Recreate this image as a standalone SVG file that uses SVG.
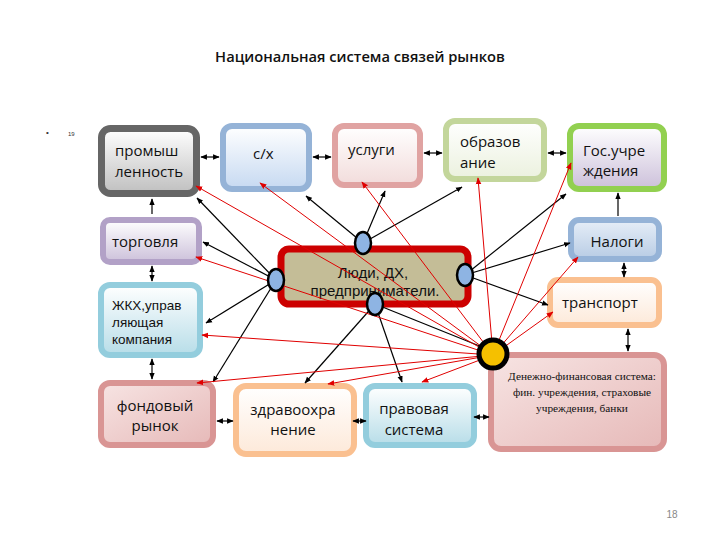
<svg xmlns="http://www.w3.org/2000/svg" width="720" height="540" viewBox="0 0 720 540">
<defs>
<linearGradient id="gGray" x1="0" y1="0" x2="0" y2="1"><stop offset="0" stop-color="#ffffff"/><stop offset="1" stop-color="#bfbfbf"/></linearGradient>
<linearGradient id="gBlue" x1="0" y1="0" x2="0" y2="1"><stop offset="0" stop-color="#ffffff"/><stop offset="1" stop-color="#c6d9f1"/></linearGradient>
<linearGradient id="gPink" x1="0" y1="0" x2="0" y2="1"><stop offset="0" stop-color="#ffffff"/><stop offset="1" stop-color="#f2dcdb"/></linearGradient>
<linearGradient id="gGreen" x1="0" y1="0" x2="0" y2="1"><stop offset="0" stop-color="#ffffff"/><stop offset="1" stop-color="#ebf1de"/></linearGradient>
<linearGradient id="gLav" x1="0" y1="0" x2="0" y2="1"><stop offset="0" stop-color="#ffffff"/><stop offset="1" stop-color="#ccc0da"/></linearGradient>
<linearGradient id="gTeal" x1="0" y1="0" x2="0" y2="1"><stop offset="0" stop-color="#ffffff"/><stop offset="1" stop-color="#b7dde8"/></linearGradient>
<linearGradient id="gRose" x1="0" y1="0" x2="1" y2="1"><stop offset="0" stop-color="#f7e4e3"/><stop offset="1" stop-color="#e6b9b8"/></linearGradient>
<linearGradient id="gOrange" x1="0" y1="0" x2="0" y2="1"><stop offset="0" stop-color="#ffffff"/><stop offset="1" stop-color="#fde9d9"/></linearGradient>
<linearGradient id="gNal" x1="0" y1="0" x2="0" y2="1"><stop offset="0" stop-color="#e6eef8"/><stop offset="1" stop-color="#b8cce4"/></linearGradient>
<marker id="ab" viewBox="0 0 10 10" refX="9" refY="5" markerWidth="5.5" markerHeight="5.5" orient="auto-start-reverse"><path d="M0,1 L10,5 L0,9 z" fill="#000"/></marker>
<marker id="ar" viewBox="0 0 10 10" refX="9" refY="5" markerWidth="7" markerHeight="7" orient="auto"><path d="M0,1 L10,5 L0,9 z" fill="#e00000"/></marker>
</defs>
<style>
.box{stroke-width:6}
.t{font-family:"Open Sans","Liberation Sans",sans-serif;font-size:15px;fill:#111}
.ts{font-family:"Liberation Sans",sans-serif;font-size:13.5px;fill:#111}
.tc{text-anchor:middle}
.ser{font-family:"Liberation Serif",serif;font-size:11.3px;fill:#111;text-anchor:middle}
.bl{stroke:#000;stroke-width:1.2;fill:none}
.rd{stroke:#e00000;stroke-width:1;fill:none}
.dot{fill:#8eb4e3;stroke:#000;stroke-width:2.5}
</style>
<rect width="720" height="540" fill="#fff"/>
<text x="360" y="62" text-anchor="middle" font-family="Open Sans, Liberation Sans, sans-serif" font-size="14.7" font-weight="600" fill="#111">Национальная система связей рынков</text>
<text x="46" y="135" font-family="Liberation Sans, sans-serif" font-size="8" fill="#333">•</text>
<text x="68" y="136" font-family="Liberation Sans, sans-serif" font-size="6" fill="#333">19</text>
<text x="672" y="518" font-family="Liberation Sans, sans-serif" font-size="10" fill="#888" text-anchor="middle">18</text>

<g id="n-prom"><rect x="101.5" y="128.5" width="95" height="65" rx="9" fill="url(#gGray)" stroke="#666666" stroke-width="7"/><text class="t" x="115" y="156">промыш</text><text class="t" x="115" y="177">ленность</text></g>
<g id="n-sx"><rect class="box" x="223" y="126" width="86" height="63" rx="9" fill="url(#gBlue)" stroke="#95b3d7"/><text class="t" x="253" y="159" font-size="19">с/х</text></g>
<g id="n-usl"><rect class="box" x="335" y="126" width="85" height="59" rx="9" fill="url(#gPink)" stroke="#e0a3a2"/><text class="t" x="348" y="155" font-size="16">услуги</text></g>
<g id="n-obr"><rect class="box" x="446" y="121" width="98" height="58" rx="9" fill="url(#gGreen)" stroke="#c3d69b"/><text class="t" x="460" y="147">образов</text><text class="t" x="460" y="168">ание</text></g>
<g id="n-gos"><rect class="box" x="570" y="126" width="94" height="63" rx="9" fill="url(#gLav)" stroke="#92d050"/><text class="t" x="583" y="156">Гос.учре</text><text class="t" x="583" y="176">ждения</text></g>
<g id="n-torg"><rect class="box" x="103" y="220" width="96" height="42" rx="7" fill="url(#gLav)" stroke="#b2a1c7"/><text class="t" x="112" y="247">торговля</text></g>
<g id="n-zhkh"><rect class="box" x="101" y="285" width="99" height="70" rx="9" fill="url(#gTeal)" stroke="#93cddd"/><text class="ts" x="112" y="310">ЖКХ,управ</text><text class="ts" x="112" y="327">ляющая</text><text class="ts" x="112" y="344">компания</text></g>
<g id="n-fond"><rect class="box" x="101" y="383" width="112" height="62" rx="9" fill="url(#gRose)" stroke="#d99594"/><text class="t tc" x="155" y="411">фондовый</text><text class="t tc" x="155" y="431">рынок</text></g>
<g id="n-zdr"><rect class="box" x="236" y="386" width="118" height="68" rx="10" fill="url(#gOrange)" stroke="#fac090"/><text class="t tc" x="293" y="415" font-size="16">здравоохра</text><text class="t tc" x="293" y="435" font-size="16">нение</text></g>
<g id="n-prav"><rect class="box" x="366" y="386" width="108" height="59" rx="9" fill="url(#gTeal)" stroke="#93cddd"/><text class="t tc" x="414" y="414" font-size="17">правовая</text><text class="t tc" x="414" y="435" font-size="17">система</text></g>
<g id="n-den"><rect class="box" x="491" y="355" width="173" height="94" rx="10" fill="url(#gRose)" stroke="#d99594"/><text class="ser" x="582" y="380">Денежно-финансовая система:</text><text class="ser" x="582" y="396">фин. учреждения, страховые</text><text class="ser" x="582" y="412">учреждения, банки</text></g>
<g id="n-nal"><rect class="box" x="571" y="220" width="88" height="39" rx="8" fill="url(#gNal)" stroke="#95b3d7"/><text class="t tc" x="617" y="247" font-size="18">Налоги</text></g>
<g id="n-tr"><rect class="box" x="550" y="280" width="109" height="45" rx="8" fill="url(#gOrange)" stroke="#fac090"/><text class="t" x="562" y="308">транспорт</text></g>
<g id="n-center"><rect x="281" y="249" width="187" height="55" rx="8" fill="#c4bd97" stroke="#cc0000" stroke-width="7"/><text x="373" y="278" text-anchor="middle" font-family="Liberation Sans, sans-serif" font-size="15" fill="#111">Люди, ДХ,</text><text x="375" y="296" text-anchor="middle" font-family="Liberation Sans, sans-serif" font-size="15" fill="#111">предприниматели.</text></g>

<g id="connectors">
<g marker-start="url(#ab)" marker-end="url(#ab)" class="bl">
<line x1="201" y1="157" x2="219" y2="157"/>
<line x1="313" y1="157" x2="331" y2="157"/>
<line x1="424" y1="153" x2="442" y2="153"/>
<line x1="548" y1="153" x2="566" y2="153"/>
<line x1="152" y1="266" x2="152" y2="281"/>
<line x1="152" y1="359" x2="152" y2="379"/>
<line x1="217" y1="421" x2="233" y2="421"/>
<line x1="353" y1="421" x2="366" y2="421"/>
<line x1="474" y1="417" x2="489" y2="417"/>
<line x1="624" y1="263" x2="624" y2="277"/>
<line x1="628" y1="329" x2="628" y2="351"/>
</g>
<g marker-end="url(#ab)" class="bl">
<line x1="152" y1="214" x2="152" y2="199"/>
<line x1="618" y1="216" x2="618" y2="193"/>
<line x1="276" y1="280" x2="197" y2="198"/>
<line x1="276" y1="280" x2="203" y2="242"/>
<line x1="276" y1="280" x2="206" y2="323"/>
<line x1="276" y1="280" x2="213" y2="382"/>
<line x1="363" y1="243" x2="306" y2="196"/>
<line x1="363" y1="243" x2="385" y2="191"/>
<line x1="363" y1="243" x2="462" y2="187"/>
<line x1="465" y1="275" x2="566" y2="194"/>
<line x1="465" y1="275" x2="570" y2="243"/>
<line x1="465" y1="275" x2="548" y2="305"/>
<line x1="375" y1="304" x2="305" y2="383"/>
<line x1="375" y1="304" x2="402" y2="382"/>
</g>
<line class="bl" x1="375" y1="304" x2="482" y2="347"/>
<g marker-end="url(#ar)" class="rd">
<line x1="493" y1="355" x2="196" y2="186"/>
<line x1="493" y1="355" x2="260" y2="183"/>
<line x1="493" y1="355" x2="362" y2="182"/>
<line x1="493" y1="355" x2="478" y2="178"/>
<line x1="493" y1="355" x2="571" y2="163"/>
<line x1="493" y1="355" x2="578" y2="257"/>
<line x1="493" y1="355" x2="553" y2="312"/>
<line x1="493" y1="355" x2="196" y2="257"/>
<line x1="493" y1="355" x2="202" y2="335"/>
<line x1="493" y1="355" x2="197" y2="383"/>
<line x1="493" y1="355" x2="328" y2="384"/>
<line x1="493" y1="355" x2="422" y2="382"/>
</g>
</g>
<g id="hubs">
<ellipse class="dot" cx="363" cy="243" rx="8" ry="11"/>
<ellipse class="dot" cx="276" cy="280" rx="8" ry="11"/>
<ellipse class="dot" cx="465" cy="275" rx="8" ry="11"/>
<ellipse class="dot" cx="375" cy="304" rx="8" ry="11"/>
<circle cx="493" cy="354" r="14" fill="#f5c000" stroke="#000" stroke-width="5"/>
</g>
</svg>
